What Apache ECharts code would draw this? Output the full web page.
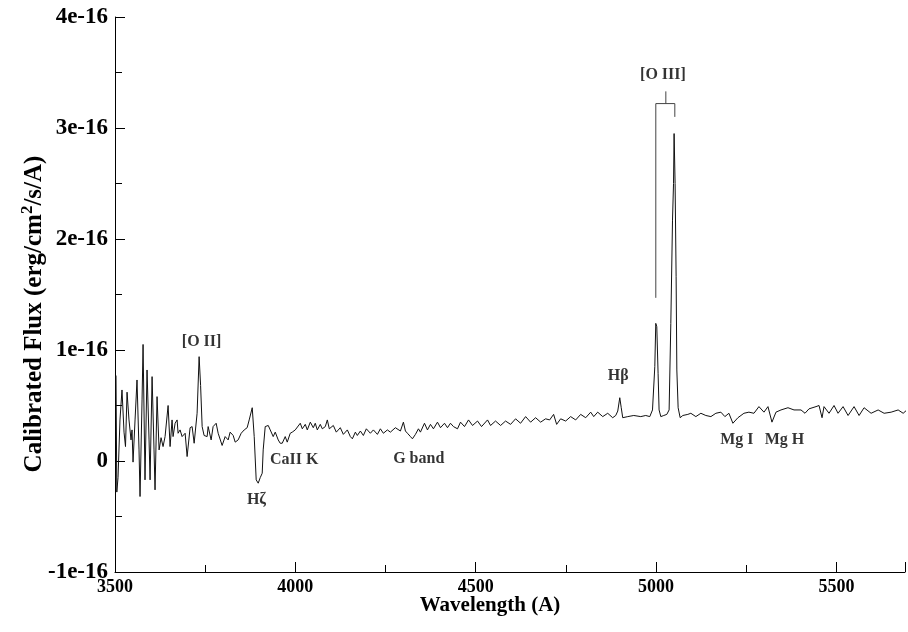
<!DOCTYPE html>
<html>
<head>
<meta charset="utf-8">
<script src="https://cdn.jsdelivr.net/npm/echarts@6/dist/echarts.min.js"></script>
<style>
  html, body { margin: 0; padding: 0; background: #fff; }
  #chart { width: 908px; height: 632px; }
</style>
</head>
<body>
<div id="chart"></div>
<script>
// wavelength (A) and calibrated flux (units of 1e-16 erg/cm2/s/A)
const wave = [
  3502.8, 3505.0, 3508.4, 3513.8, 3519.4, 3525.0, 3529.1, 3533.4, 3538.8, 3544.4,
  3547.2, 3550.0, 3555.6, 3561.0, 3566.6, 3569.4, 3575.0, 3577.8, 3583.2, 3588.8,
  3594.4, 3597.2, 3602.8, 3608.2, 3611.0, 3616.6, 3622.2, 3627.7, 3633.2, 3638.8,
  3647.2, 3652.7, 3658.2, 3661.0, 3666.6, 3672.2, 3674.9, 3680.4, 3686.0, 3688.8,
  3694.4, 3699.9, 3708.2, 3713.8, 3719.4, 3727.6, 3733.2, 3737.3, 3741.6, 3747.0,
  3755.4, 3758.2, 3766.5, 3772.0, 3780.4, 3786.0, 3797.0, 3805.4, 3813.7, 3819.2,
  3827.6, 3833.2, 3841.4, 3849.8, 3858.2, 3866.4, 3872.0, 3880.4, 3885.9, 3891.4,
  3897.0, 3902.6, 3908.1, 3910.8, 3916.4, 3924.8, 3930.3, 3938.6, 3944.2, 3952.5,
  3958.0, 3963.6, 3971.9, 3977.5, 3985.8, 3991.4, 3999.7, 4005.2, 4013.6, 4019.2,
  4027.5, 4033.0, 4041.4, 4049.7, 4055.2, 4060.8, 4069.1, 4074.7, 4083.0, 4088.6,
  4094.1, 4105.2, 4113.5, 4124.6, 4133.0, 4144.1, 4152.4, 4158.0, 4166.3, 4171.8,
  4180.2, 4188.5, 4196.8, 4207.9, 4216.3, 4227.4, 4235.7, 4244.0, 4255.1, 4263.5,
  4277.3, 4291.2, 4299.5, 4305.1, 4310.7, 4319.0, 4324.5, 4332.9, 4341.2, 4346.7,
  4357.9, 4366.2, 4374.5, 4382.8, 4393.9, 4402.3, 4413.4, 4421.7, 4430.0, 4438.3,
  4449.5, 4457.8, 4468.9, 4480.0, 4491.1, 4505.0, 4516.1, 4532.7, 4541.1, 4554.9,
  4568.9, 4582.7, 4596.6, 4610.5, 4624.3, 4638.3, 4652.1, 4666.0, 4679.9, 4693.7,
  4704.9, 4715.9, 4724.3, 4735.4, 4749.3, 4763.1, 4777.1, 4790.9, 4804.9, 4818.7,
  4827.1, 4838.1, 4852.1, 4865.9, 4879.7, 4888.1, 4893.7, 4899.3, 4903.4, 4907.5,
  4921.5, 4938.1, 4957.5, 4971.3, 4982.5, 4990.0, 4996.4, 4999.1, 5001.9, 5005.5,
  5008.3, 5013.1, 5021.3, 5029.7, 5036.1, 5040.8, 5045.5, 5048.3, 5049.9, 5052.7,
  5055.5, 5057.5, 5061.1, 5066.7, 5074.1, 5088.0, 5096.3, 5110.2, 5124.1, 5137.9,
  5151.9, 5165.7, 5179.6, 5190.7, 5201.8, 5212.9, 5226.8, 5243.5, 5257.3, 5271.3,
  5285.1, 5299.0, 5310.1, 5321.2, 5332.3, 5346.2, 5365.6, 5382.3, 5401.7, 5412.8,
  5423.9, 5443.3, 5451.7, 5460.0, 5465.5, 5479.4, 5493.3, 5504.4, 5518.3, 5532.2,
  5548.8, 5562.7, 5576.6, 5596.0, 5615.5, 5632.1, 5651.6, 5671.0, 5684.9, 5698.8
];
const flux = [
  0.77, -0.28, -0.15, 0.37, 0.64, 0.26, 0.13, 0.62, 0.37, 0.19,
  0.28, -0.01, 0.37, 0.73, 0.10, -0.32, 0.55, 1.05, -0.17, 0.82,
  0.19, -0.17, 0.76, 0.10, -0.26, 0.58, 0.10, 0.21, 0.13, 0.22,
  0.50, 0.13, 0.37, 0.22, 0.34, 0.37, 0.25, 0.28, 0.22, 0.22,
  0.25, 0.04, 0.30, 0.31, 0.16, 0.43, 0.94, 0.68, 0.31, 0.23,
  0.22, 0.31, 0.19, 0.31, 0.34, 0.25, 0.14, 0.22, 0.19, 0.26,
  0.23, 0.17, 0.19, 0.25, 0.28, 0.30, 0.37, 0.48, 0.22, -0.17,
  -0.20, -0.15, -0.11, 0.10, 0.31, 0.32, 0.28, 0.22, 0.26, 0.19,
  0.16, 0.16, 0.22, 0.17, 0.25, 0.26, 0.28, 0.28, 0.34, 0.29,
  0.33, 0.28, 0.35, 0.30, 0.34, 0.28, 0.33, 0.29, 0.31, 0.37,
  0.29, 0.32, 0.26, 0.30, 0.24, 0.28, 0.22, 0.20, 0.26, 0.23,
  0.27, 0.23, 0.29, 0.25, 0.28, 0.24, 0.29, 0.25, 0.28, 0.26,
  0.30, 0.27, 0.35, 0.27, 0.25, 0.22, 0.20, 0.24, 0.29, 0.26,
  0.34, 0.28, 0.33, 0.29, 0.35, 0.30, 0.34, 0.30, 0.34, 0.31,
  0.29, 0.35, 0.31, 0.37, 0.32, 0.36, 0.31, 0.37, 0.32, 0.36,
  0.32, 0.36, 0.33, 0.38, 0.34, 0.40, 0.35, 0.39, 0.35, 0.38,
  0.37, 0.42, 0.33, 0.38, 0.36, 0.40, 0.37, 0.42, 0.39, 0.44,
  0.40, 0.44, 0.40, 0.43, 0.39, 0.41, 0.45, 0.57, 0.48, 0.39,
  0.40, 0.41, 0.40, 0.41, 0.40, 0.46, 0.85, 1.24, 1.21, 0.79,
  0.46, 0.40, 0.41, 0.42, 0.46, 1.24, 2.17, 2.50, 2.95, 2.50,
  1.66, 0.82, 0.48, 0.39, 0.41, 0.42, 0.43, 0.40, 0.43, 0.41,
  0.40, 0.43, 0.44, 0.40, 0.43, 0.34, 0.39, 0.43, 0.44, 0.43,
  0.49, 0.44, 0.49, 0.35, 0.44, 0.46, 0.48, 0.46, 0.46, 0.43,
  0.47, 0.49, 0.50, 0.39, 0.49, 0.43, 0.50, 0.43, 0.49, 0.41,
  0.49, 0.41, 0.48, 0.43, 0.46, 0.43, 0.44, 0.46, 0.43, 0.47
];

// line identifications: text, and the wavelength / flux where each label sits
const lineNames = ['[O II]', 'H\u03B6', 'CaII K', 'G band', 'H\u03B2', '[O III]', 'Mg I', 'Mg H'];
const lineWave = [3740, 3892, 3997, 4342, 4895, 5019, 5224, 5356];
const lineFlux = [1.07, -0.35, 0.01, 0.02, 0.77, 3.48, 0.19, 0.19];

// bracket joining the two [O III] lines
const bracketWave = [4999.2, 4999.2, 5051.9, 5051.9];
const bracketFlux = [1.47, 3.22, 3.22, 3.10];
const stemWave = [5027, 5027];
const stemFlux = [3.22, 3.33];

const xTicks = [3500, 4000, 4500, 5000, 5500];

const font = 'Liberation Serif';
const zip = (a, b) => a.map((v, i) => [v, b[i]]);

const chart = echarts.init(document.getElementById('chart'));
chart.setOption({
  animation: false,
  backgroundColor: '#fff',
  grid: { left: 115, right: 0, top: 17, bottom: 60 },
  xAxis: {
    type: 'value',
    min: 3500,
    max: 5690,
    interval: 500,
    axisLine: { onZero: false, lineStyle: { color: '#000', width: 1 } },
    axisTick: { inside: true, length: 10, lineStyle: { color: '#000' } },
    minorTick: { show: true, splitNumber: 2, length: 7, lineStyle: { color: '#000' } },
    splitLine: { show: false },
    axisLabel: {
      margin: 6,
      fontFamily: font, fontWeight: 'bold', fontSize: 18, color: '#000',
      formatter: v => (xTicks.includes(v) ? String(v) : '')
    }
  },
  yAxis: {
    type: 'value',
    min: -1,
    max: 4,
    interval: 1,
    axisLine: { show: true, onZero: false, lineStyle: { color: '#000', width: 1 } },
    axisTick: { show: true, inside: true, length: 10, lineStyle: { color: '#000' } },
    minorTick: { show: true, splitNumber: 2, length: 7, lineStyle: { color: '#000' } },
    splitLine: { show: false },
    axisLabel: {
      margin: 7,
      fontFamily: font, fontWeight: 'bold', fontSize: 23, color: '#000',
      formatter: v => (v === 0 ? '0' : v + 'e-16')
    }
  },
  graphic: [
    {
      type: 'text',
      x: 490,
      y: 606,
      style: {
        text: 'Wavelength (A)',
        align: 'center',
        verticalAlign: 'middle',
        fontFamily: font, fontWeight: 'bold', fontSize: 21, fill: '#000'
      }
    },
    {
      type: 'text',
      x: 33,
      y: 314,
      rotation: Math.PI / 2,
      style: {
        text: '{a|Calibrated Flux (erg/cm}{s|2}{a|/s/A)}',
        align: 'center',
        verticalAlign: 'middle',
        rich: {
          a: { fontFamily: font, fontWeight: 'bold', fontSize: 25, fill: '#000', verticalAlign: 'bottom' },
          s: { fontFamily: font, fontWeight: 'bold', fontSize: 17, fill: '#000', verticalAlign: 'bottom', padding: [0, 0, 11, 0] }
        }
      }
    }
  ],
  series: [
    {
      type: 'line',
      data: zip(wave, flux),
      showSymbol: false,
      lineStyle: { color: '#111', width: 1 },
      z: 3
    },
    {
      type: 'line',
      data: zip(bracketWave, bracketFlux),
      showSymbol: false,
      lineStyle: { color: '#444', width: 1 }
    },
    {
      type: 'line',
      data: zip(stemWave, stemFlux),
      showSymbol: false,
      lineStyle: { color: '#444', width: 1 }
    },
    {
      type: 'scatter',
      symbolSize: 0,
      data: lineNames.map((n, i) => ({ name: n, value: [lineWave[i], lineFlux[i]] })),
      label: {
        show: true,
        position: 'inside',
        formatter: p => p.name,
        fontFamily: font, fontWeight: 'bold', fontSize: 16, color: '#000'
      },
      z: 4
    }
  ]
});
</script>
</body>
</html>
